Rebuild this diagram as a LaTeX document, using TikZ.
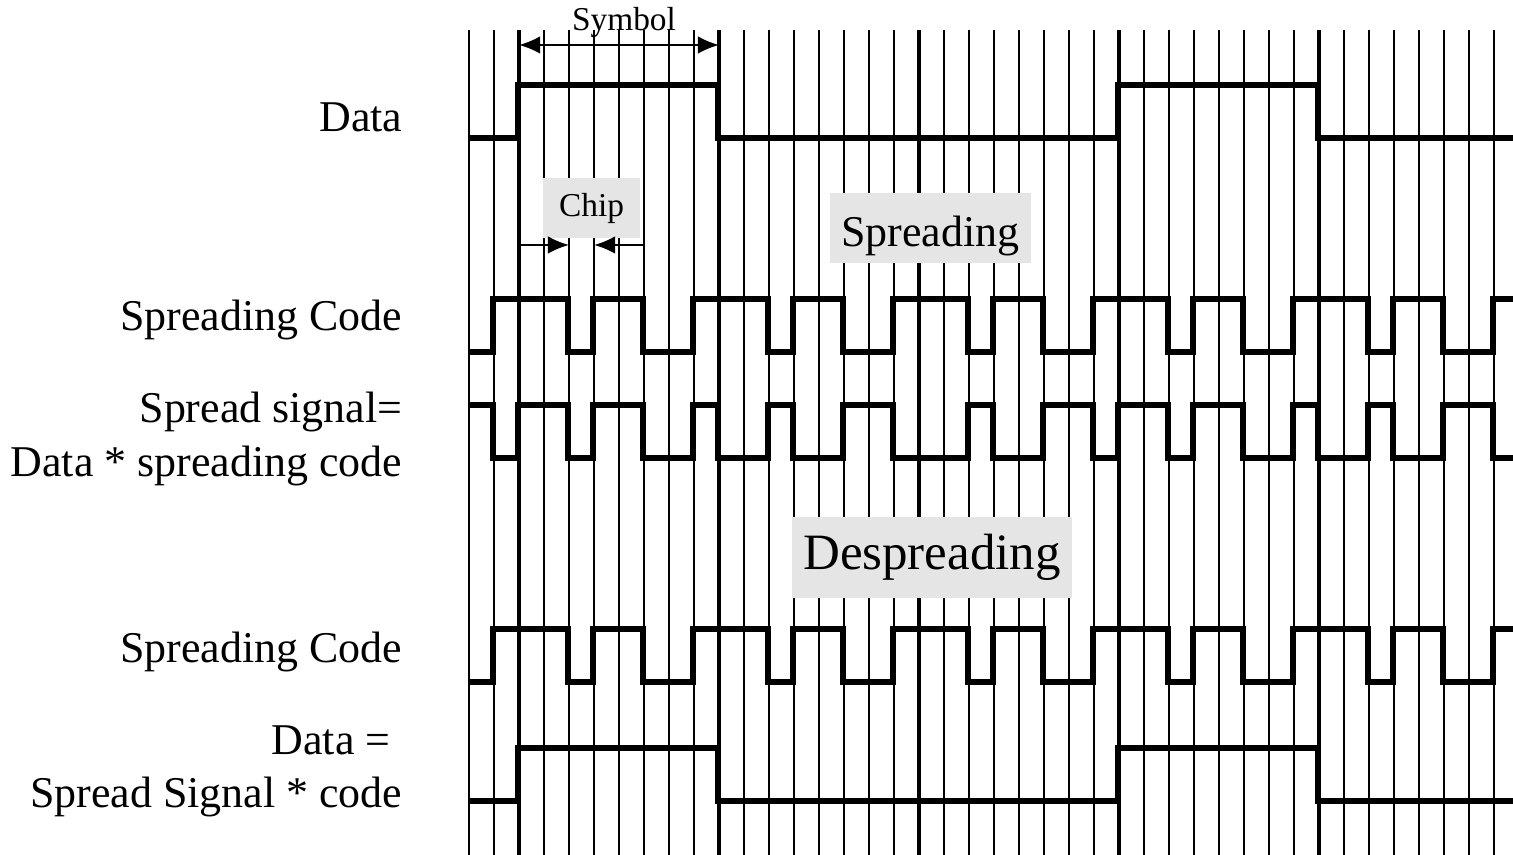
\documentclass[tikz,border=0pt]{standalone}
\usepackage{fontspec}
\setmainfont{Liberation Serif}
\usetikzlibrary{arrows.meta}

% one waveform: #1 = low level, #2 = first bit, #3 = bits per chip
\newcommand{\waveform}[3]{%
  \draw[golf] (4.68,{#1+0.53*#2})
    \foreach \b [count=\i from 0] in {#3} {
      -- ({4.68+0.25*\i},{#1+0.53*\b}) -- ({4.93+0.25*\i},{#1+0.53*\b})
    };
}

\begin{document}
\begin{tikzpicture}[>={Latex[length=6pt,width=5pt]}]

% --- Styles ---
\tikzset{
    rij/.style={
        font=\fontsize{12.5}{15}\selectfont,
        anchor=base east,
        inner sep=0pt
    },
    vak/.style={
        fill=gray!20,
        inner sep=0pt
    },
    chiplijn/.style={line width=0.6pt},
    symboollijn/.style={line width=1.3pt},
    golf/.style={line width=1.9pt, line join=miter},
    maat/.style={line width=0.6pt}
}

\useasboundingbox (0,0) rectangle (15.13,8.55);
\clip (0,0) rectangle (15.13,8.55);

% --- Grid of chips ---
\foreach \i in {0,...,41}
    \draw[chiplijn] ({4.69+0.25*\i},0) -- ++(0,8.25);

% symbol borders
\foreach \x in {5.19,7.19,9.19,11.19,13.19}
    \draw[symboollijn] (\x,0) -- (\x,8.25);

% --- Row names ---
\node[rij] (data)   at (4.03,7.23) {Data};
\node[rij] (code)   at (4.03,5.24) {Spreading Code};
\node[rij] (spr1)   at (4.03,4.32) {Spread signal=};
\node[rij] (spr2)   at (4.03,3.78) {Data * spreading code};
\node[rij] (code2)  at (4.03,1.92) {Spreading Code};
\node[rij] (terug1) at (3.91,1.00) {Data =};
\node[rij] (terug2) at (4.03,0.47) {Spread Signal * code};

% --- Symbol and chip ---
\coordinate (sa) at (5.19,8.10);
\coordinate (sb) at (7.19,8.10);
\draw[maat,<->] (sa) -- (sb);
\node[font=\fontsize{9.5}{11}\selectfont, anchor=base, inner sep=0pt] (symbool) at (6.24,8.24) {Symbol};

\node[vak, font=\fontsize{9.5}{11}\selectfont, minimum width=0.97cm, minimum height=0.60cm] (chip) at (5.915,6.47) {Chip};
\coordinate (ca) at (5.19,6.10);
\coordinate (cb) at (5.69,6.10);
\coordinate (cc) at (6.44,6.10);
\coordinate (cd) at (5.94,6.10);
\draw[maat,->] (ca) -- (cb);
\draw[maat,->] (cc) -- (cd);

% --- Spreading / despreading ---
\node[vak, font=\fontsize{12.5}{15}\selectfont, minimum width=2.01cm, minimum height=0.70cm, text height=13pt, text depth=2.7pt] (spreiden) at (9.305,6.27) {Spreading};
\node[vak, font=\fontsize{14.5}{17}\selectfont, minimum width=2.80cm, minimum height=0.81cm] (ontspreiden) at (9.32,2.975) {Despreading};

% --- Waveforms ---
% data
\waveform{7.17}{0}{0,0,1,1,1,1,1,1,1,1,0,0,0,0,0,0,0,0,0,0,0,0,0,0,0,0,1,1,1,1,1,1,1,1,0,0,0,0,0,0,0,0}
% spreading code
\waveform{5.03}{0}{0,1,1,1,0,1,1,0,0,1,1,1,0,1,1,0,0,1,1,1,0,1,1,0,0,1,1,1,0,1,1,0,0,1,1,1,0,1,1,0,0,1}
% spread signal
\waveform{3.97}{1}{1,0,1,1,0,1,1,0,0,1,0,0,1,0,0,1,1,0,0,0,1,0,0,1,1,0,1,1,0,1,1,0,0,1,0,0,1,0,0,1,1,0}
% spreading code (receiver)
\waveform{1.73}{0}{0,1,1,1,0,1,1,0,0,1,1,1,0,1,1,0,0,1,1,1,0,1,1,0,0,1,1,1,0,1,1,0,0,1,1,1,0,1,1,0,0,1}
% recovered data
\waveform{0.54}{0}{0,0,1,1,1,1,1,1,1,1,0,0,0,0,0,0,0,0,0,0,0,0,0,0,0,0,1,1,1,1,1,1,1,1,0,0,0,0,0,0,0,0}

\end{tikzpicture}
\end{document}
